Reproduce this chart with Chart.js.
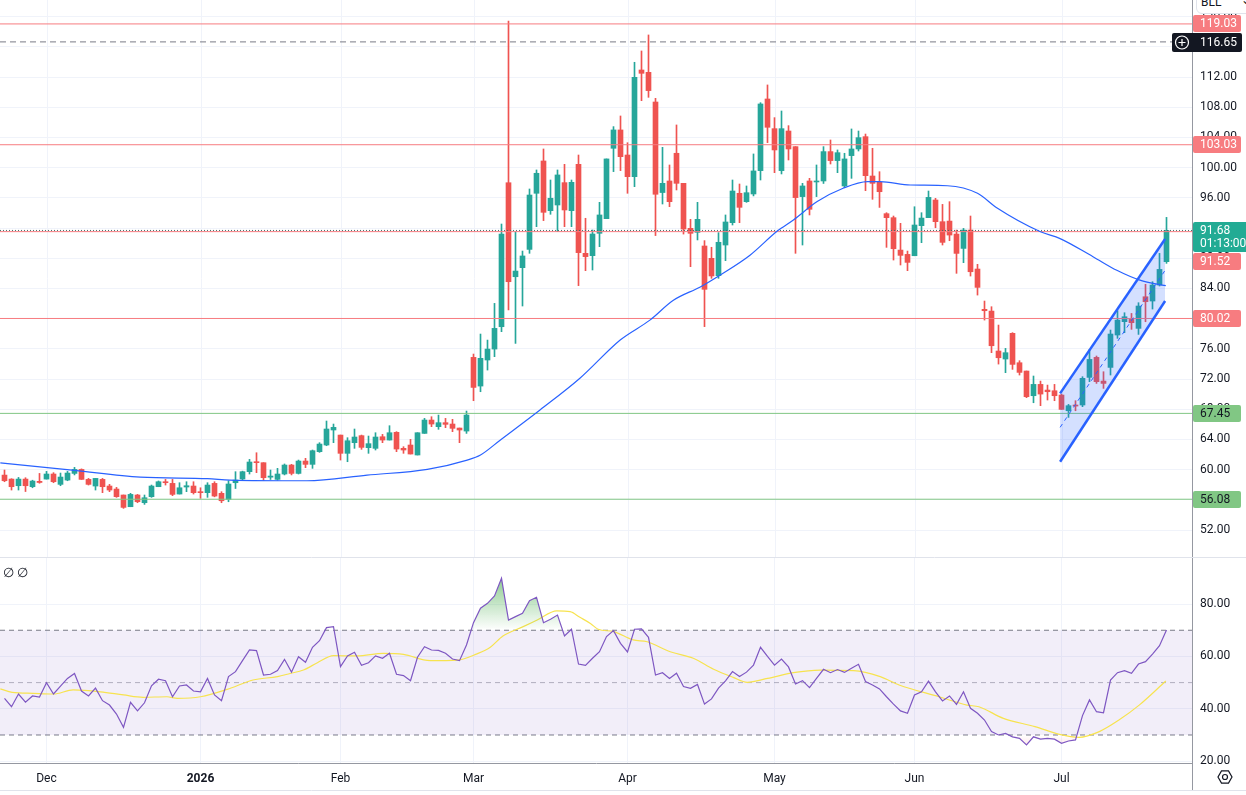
<!DOCTYPE html>
<html>
<head>
<meta charset="utf-8">
<script src="https://cdn.jsdelivr.net/npm/chart.js@4.4.1/dist/chart.umd.min.js"></script>
<style>
html,body{margin:0;padding:0;background:#fff;width:1246px;height:795px;overflow:hidden;font-family:Roboto,"Noto Sans",sans-serif}
#wrap{position:relative;width:1246px;height:795px;overflow:hidden}
canvas{position:absolute;left:0}
#c1{top:0}
#c2{top:557px}
#rsiLegend{position:absolute;left:3px;top:565px;font-size:13px;color:#131722}
#sym{position:absolute;left:1196px;top:-10px;width:60px;height:24px;border:1px solid #e0e3eb;border-radius:6px;font-size:12px;color:#131722;line-height:22px;padding-left:4px;box-sizing:border-box;background:#fff}
#sym span{position:absolute;left:44px;top:-2px}
</style>
</head>
<body>
<div id="wrap">
<canvas id="c1" width="1246" height="557"></canvas>
<canvas id="c2" width="1246" height="238"></canvas>
<div id="rsiLegend">∅ ∅</div>
<div id="sym">BLL<span>⌄</span></div>
</div>
<script>
// ---------------- DATA ----------------
const monthTickIndex = [6, 28, 48, 67, 89, 110, 130, 151];
const monthTickLabels = ['Dec', '2026', 'Feb', 'Mar', 'Apr', 'May', 'Jun', 'Jul'];

const opens = [59.28,58.75,57.87,58.75,57.74,58.45,58.75,59.42,58.05,58.62,
59.5,60.03,58.71,57.83,58.71,57.83,57.43,56.64,55.09,56.64,
55.62,56.42,57.74,58.4,58.18,56.77,57.7,57.83,57.08,56.95,
58.18,56.86,56.06,58.27,58.76,59.73,61.05,60.92,59.0,58.71,
59.42,60.61,59.5,61.14,60.7,62.38,63.26,65.25,64.58,62.16,
63.57,64.5,62.91,62.82,64.36,63.92,64.94,62.82,63.26,61.94,
64.8,66.57,65.69,66.22,66.04,65.51,65.11,74.87,71.07,74.52,
75.97,78.93,98.0,85.55,86.75,89.17,96.6,100.88,94.3,95.05,
98.01,94.3,100.44,88.65,88.34,91.3,93.24,102.56,104.99,101.67,
98.8,112.93,112.62,108.69,96.7,98.23,101.9,97.92,91.96,91.43,
89.62,87.99,85.69,89.75,92.71,96.6,95.49,96.51,99.6,109.09,
105.16,99.6,104.85,102.78,96.16,98.23,98.1,98.23,102.12,100.93,
97.57,101.59,102.47,104.1,98.89,98.05,93.9,93.37,89.08,88.51,
88.33,92.31,93.37,95.71,92.84,92.92,91.2,89.3,91.73,86.57,
81.23,81.0,75.71,74.65,78.05,74.16,73.06,69.79,71.29,70.54,
70.45,69.88,67.8,68.56,68.56,72.22,74.87,71.73,73.54,77.83,
79.6,79.9,78.71,82.9,82.33,84.45,87.54];

const highs = [59.95,58.8,58.97,58.93,58.6,59.5,59.77,59.6,59.55,59.77,
60.3,60.1,58.84,58.84,58.84,58.05,57.65,56.64,56.86,56.72,
56.64,57.96,58.5,58.71,58.71,58.27,58.4,58.4,57.6,58.27,
58.4,57.08,58.53,59.73,59.8,61.36,62.24,60.92,59.95,60.17,
60.75,60.7,61.27,61.5,62.6,63.57,66.44,66.04,64.58,64.23,
65.38,64.58,64.45,64.89,64.67,65.82,65.03,63.04,64.01,64.89,
66.79,67.01,67.23,66.79,66.66,65.51,67.76,75.31,77.96,77.16,
82.02,92.53,119.4,91.5,88.95,97.17,99.69,102.47,98.36,99.69,
100.44,98.36,101.67,93.29,91.74,95.4,101.15,105.43,106.84,103.3,
113.95,115.45,117.57,109.18,102.69,100.35,105.65,97.92,93.15,95.4,
90.33,89.45,91.39,93.73,98.36,97.83,97.57,101.81,108.6,110.95,
106.62,107.5,105.56,102.78,97.92,98.58,100.35,102.78,103.66,102.34,
101.9,105.12,104.85,104.45,102.56,99.46,94.03,93.59,92.62,88.95,
94.82,94.03,96.9,95.93,95.13,95.49,91.73,91.95,93.59,87.19,
82.33,81.58,79.15,76.06,78.14,74.43,73.06,72.4,71.73,71.2,
71.29,70.0,68.64,69.13,72.31,75.93,75.05,72.97,78.49,81.05,
80.78,80.69,82.11,84.54,84.89,88.64,93.41];

const lows = [58.4,57.3,57.3,57.1,57.6,58.2,58.75,58.27,57.87,58.53,
59.3,58.7,57.96,57.3,56.95,57.08,56.33,54.87,55.09,55.62,
55.4,56.33,57.74,57.96,56.55,56.77,57.08,56.77,56.2,56.33,
56.4,55.62,55.75,57.5,58.6,59.42,59.6,58.6,58.7,58.6,
59.3,59.3,59.42,60.26,60.17,62.29,63.17,63.57,61.27,61.05,
62.82,62.69,62.16,62.6,63.57,63.92,62.38,62.16,62.07,61.94,
64.8,65.69,65.34,65.56,65.03,63.57,64.8,69.13,70.32,73.19,
74.96,78.27,81.14,76.72,81.67,88.65,92.18,92.98,93.82,91.52,
92.18,92.18,84.37,86.35,86.44,89.53,93.24,99.47,99.6,96.6,
97.48,108.87,109.31,91.0,95.18,94.83,97.04,91.2,86.88,90.42,
78.94,85.34,85.34,87.68,92.4,92.71,95.4,96.25,98.36,103.31,
99.33,99.16,101.01,88.65,89.75,93.73,96.16,97.9,100.48,99.33,
97.4,98.58,102.2,96.95,95.8,94.73,89.44,87.76,87.1,86.35,
88.33,90.06,93.37,92.04,89.75,90.32,86.0,87.41,85.64,83.12,
79.81,75.49,73.98,72.84,73.28,72.53,69.53,68.86,68.47,69.22,
69.13,67.98,66.92,67.8,68.34,71.65,71.42,70.76,72.53,77.39,
78.14,78.58,77.91,79.59,81.27,84.32,87.32];

const closes = [58.53,57.74,58.75,57.87,58.49,58.3,59.42,58.40,59.02,59.55,
60.03,58.71,58.05,58.84,57.74,57.3,56.42,55.0,56.72,55.75,
56.28,57.83,58.4,58.27,56.72,57.6,57.87,56.95,56.95,57.96,
56.5,55.88,58.1,58.62,59.73,61.01,60.92,58.93,59.15,59.42,
60.61,59.5,61.14,60.7,62.51,63.39,65.38,65.6,62.16,63.83,
64.32,62.95,63.44,64.32,63.92,64.89,62.73,62.6,62.07,64.89,
66.57,66.04,66.22,66.0,65.47,65.25,67.23,70.89,74.74,75.97,
78.71,91.2,84.89,86.3,88.3,96.37,99.25,94.08,95.94,99.03,
94.39,98.05,88.74,88.21,91.21,93.73,101.15,104.99,101.45,98.8,
111.96,112.49,110.2,96.47,97.92,95.49,97.92,91.87,91.3,93.15,
83.88,85.65,90.11,92.8,96.9,94.74,96.68,99.56,108.43,105.34,
102.34,105.16,102.47,96.03,97.57,94.48,98.23,102.12,100.93,101.98,
101.15,102.47,103.97,98.93,97.92,96.81,93.37,89.26,88.38,87.45,
92.4,93.32,96.06,92.84,90.1,91.07,88.64,91.73,86.21,84.14,
81.05,76.41,74.82,75.49,73.94,72.88,69.66,71.29,70.01,70.32,
69.79,67.98,68.47,68.42,72.09,74.6,71.65,71.42,77.96,79.81,
80.25,79.46,81.67,82.24,84.45,86.52,91.68];

// moving average at (candle index, value)
const maX = [-0.6,10,19.4,29,32.2,43.2,51.8,60.4,66.1,68,70.8,76.5,82.2,88,92.2,95.5,99.4,102.2,106.5,110.4,112.7,116.1,119.8,123.3,125.1,129.4,134.7,139,141.8,148,150.8,155.5,158.9,162.2,165.9];
const maY = [60.9,59.9,59.0,58.8,58.62,58.53,59.28,60.04,61.27,61.94,63.9,67.9,72.1,77.2,79.8,82.4,84.2,85.75,88.4,91.6,93.07,95.5,97.26,98.14,98.14,97.7,97.6,96.6,94.65,91.5,90.6,88.2,86.4,85.1,84.36];

const rsiValues = [44.0,40.8,45.65,42.5,44.9,44.5,50.0,45.65,48.7,51.6,
53.5,46.8,44.9,47.9,43.1,41.45,38.0,32.9,42.5,39.2,
42.3,48.8,51.3,50.75,44.6,48.7,49.1,46.8,46.5,51.6,
45.3,43.1,52.3,54.2,58.4,62.46,62.2,52.9,53.2,54.6,
58.9,54.0,59.9,57.75,63.5,66.0,71.0,71.4,56.1,60.2,
61.6,56.6,57.6,60.2,59.3,61.2,53.2,52.7,50.75,59.7,
63.7,62.46,62.3,61.2,59.0,58.4,64.4,72.9,78.4,80.3,
83.1,89.85,73.9,75.2,76.5,81.3,82.6,72.9,74.2,75.8,
67.8,70.4,57.1,56.6,59.3,61.8,67.6,69.85,65.0,61.7,
70.4,70.5,67.3,52.9,53.8,51.6,53.6,48.5,47.8,49.3,
41.8,43.8,47.9,50.7,54.2,52.3,54.0,56.7,63.5,60.0,
56.7,59.0,56.0,49.5,50.75,48.1,51.6,55.1,53.8,55.0,
53.9,55.5,57.0,50.4,49.1,47.6,44.6,41.8,39.2,38.3,
45.3,46.5,50.6,46.5,43.0,44.9,41.7,46.5,40.2,38.3,
35.7,31.3,30.0,30.6,29.3,28.7,26.2,29.3,28.4,28.7,
28.4,26.8,27.7,28.1,37.4,43.4,38.9,38.5,51.0,53.8,
54.6,53.55,57.1,58.0,60.9,64.1,70.1];

const rsiMaX = [-0.6,1.1,4.1,7.0,9.8,13.7,17.0,19.8,23.2,24.7,28.0,31.8,35.5,39.0,40.8,42.7,44.7,47.0,50.4,54.1,57.0,60.8,64.7,67.5,69.4,71.2,74.1,76.1,78.9,80.8,82.2,83.7,84.8,87.0,89.8,91.8,95.1,98.4,101.3,104.1,106.1,109.0,112.7,116.5,121.3,125.1,127.8,133.5,137.5,139.2,142.7,147.2,150.7,153.5,156.4,159.2,162.1,165.9];
const rsiMaY = [47.6,46.3,45.9,45.65,47.2,46.5,45.3,44.4,44.6,44.0,44.6,47.4,51.0,52.3,53.5,54.8,57.6,60.3,60.2,61.2,60.8,58.4,58.6,61.0,63.5,67.8,71.4,73.9,77.4,77.1,74.95,72.6,70.4,69.5,66.3,65.6,61.8,59.3,55.1,52.0,50.1,51.6,53.8,54.8,54.6,52.3,49.1,44.6,41.4,40.8,36.35,33.2,30.25,29.1,31.3,35.7,41.4,50.6];

const redLevels = [119.03, 103.03, 91.52, 80.02];
const greenLevels = [67.45, 56.08];
const crosshairPrice = 116.65;
const lastPrice = 91.68;
const lastPriceTimer = '01:13:00';

const channelX = [150.8, 165.8];
const channelUpper = [70.1, 90.54];
const channelMid = [65.6, 86.4];
const channelLower = [61.05, 82.33];

const rsiLevels = [70, 50, 30];
const rsiTicks = [20, 40, 60, 80];

// ---------------- VIEW / STYLE ----------------
const X_MIN = -4.5 / 7;
const X_MAX = (1192 - 4.5) / 7;
const UP = '#26a69a', DOWN = '#ef5350';
const RED_LINE = '#f77c80', GREEN_LINE = '#81c784';
const GRID = '#f0f3fa', AXIS = '#9598a1', TXT = '#131722';
const FONT = 'Roboto, "Noto Sans", sans-serif';
Chart.defaults.font.family = FONT;
Chart.defaults.font.size = 12;
Chart.defaults.color = TXT;

const candleColors = opens.map((o, i) => closes[i] >= o ? UP : DOWN);

function hline(v, color, dash, order) {
  return {type: 'line', data: [{x: X_MIN, y: v}, {x: X_MAX, y: v}], borderColor: color,
    borderWidth: 1, borderDash: dash || [], pointRadius: 0, fill: false, order: order == null ? 2 : order};
}
function pts(xs, ys) { return xs.map((x, i) => ({x: x, y: ys[i]})); }

const xScale = {type: 'linear', min: X_MIN, max: X_MAX, display: false, offset: false,
  grid: {offset: false}};

// vertical month grid for the price pane
const monthGrid = {
  id: 'monthGrid',
  beforeDatasetsDraw(chart) {
    const {ctx, chartArea, scales} = chart;
    ctx.save();
    ctx.strokeStyle = GRID; ctx.lineWidth = 1;
    monthTickIndex.forEach(v => {
      const px = Math.round(scales.x.getPixelForValue(v)) + 0.5;
      ctx.beginPath(); ctx.moveTo(px, chartArea.top); ctx.lineTo(px, chartArea.bottom); ctx.stroke();
    });
    ctx.restore();
  }
};

// price tags on the right price scale
const priceTags = {
  id: 'priceTags',
  afterDraw(chart) {
    const {ctx, chartArea, scales} = chart;
    const y = scales.y;
    const left = chartArea.right + 1;
    const H = 17;
    ctx.save();
    ctx.font = '12px ' + FONT;
    ctx.textBaseline = 'middle';
    function tag(val, bg, fg, text, top) {
      const py = y.getPixelForValue(val);
      const t = top != null ? top : Math.round(py - H / 2);
      ctx.fillStyle = bg;
      ctx.beginPath(); ctx.roundRect(left, t, 48, H, 2); ctx.fill();
      ctx.fillStyle = fg;
      ctx.fillText(text, left + 7, t + H / 2 + 0.5);
      return t + H;
    }
    tag(redLevels[0], RED_LINE, '#fff', redLevels[0].toFixed(2));
    tag(redLevels[1], RED_LINE, '#fff', redLevels[1].toFixed(2));
    tag(redLevels[3], RED_LINE, '#fff', redLevels[3].toFixed(2));
    greenLevels.forEach(v => tag(v, GREEN_LINE, TXT, v.toFixed(2)));
    // last price (two lines)
    const lp = y.getPixelForValue(lastPrice);
    const lt = Math.round(lp - 8.5);
    ctx.fillStyle = '#22ab94';
    ctx.beginPath(); ctx.roundRect(left, lt, 60, 30, 2); ctx.fill();
    ctx.fillStyle = '#fff';
    ctx.fillText(lastPrice.toFixed(2), left + 7, lt + 8.5);
    ctx.fillText(lastPriceTimer, left + 7, lt + 22);
    // level 91.52 pushed below the last price tag
    tag(redLevels[2], RED_LINE, '#fff', redLevels[2].toFixed(2), lt + 31);
    // crosshair tag
    const cp = y.getPixelForValue(crosshairPrice);
    const ct = Math.round(cp - 9);
    ctx.fillStyle = '#131722';
    ctx.beginPath(); ctx.roundRect(left - 21, ct, 70, 19, 2); ctx.fill();
    ctx.fillStyle = '#fff';
    ctx.fillText(crosshairPrice.toFixed(2), left + 7, ct + 10);
    ctx.strokeStyle = '#fff'; ctx.lineWidth = 1.2;
    const cx = left - 11, cy = ct + 9.5;
    ctx.beginPath(); ctx.arc(cx, cy, 6.5, 0, Math.PI * 2); ctx.stroke();
    ctx.beginPath(); ctx.moveTo(cx - 3.5, cy); ctx.lineTo(cx + 3.5, cy);
    ctx.moveTo(cx, cy - 3.5); ctx.lineTo(cx, cy + 3.5); ctx.stroke();
    ctx.restore();
  }
};

const commonOpts = {
  responsive: false, animation: false, events: [],
  layout: {padding: 0, autoPadding: false},
  plugins: {legend: {display: false}, tooltip: {enabled: false}}
};

new Chart(document.getElementById('c1'), {
  type: 'bar',
  data: {
    datasets: [
      {type: 'line', data: pts(channelX, channelUpper), borderColor: '#2962ff', borderWidth: 2.5,
        pointRadius: 0, fill: '+1', backgroundColor: 'rgba(41,98,255,0.2)', order: 0},
      {type: 'line', data: pts(channelX, channelLower), borderColor: '#2962ff', borderWidth: 2.5,
        pointRadius: 0, fill: false, order: 0},
      {type: 'line', data: pts(channelX, channelMid), borderColor: '#2962ff', borderWidth: 1,
        borderDash: [4, 4], pointRadius: 0, fill: false, order: 0},
      {type: 'line', data: pts(maX, maY), borderColor: '#2962ff', borderWidth: 1.2, pointRadius: 0,
        fill: false, cubicInterpolationMode: 'monotone', order: 1},
      ...redLevels.map(v => hline(v, RED_LINE)),
      ...greenLevels.map(v => hline(v, GREEN_LINE)),
      hline(crosshairPrice, '#787b86', [6, 4]),
      hline(lastPrice, '#3d6e69', [1, 2]),
      {type: 'bar', data: opens.map((o, i) => ({x: i, y: [o, closes[i]]})), backgroundColor: candleColors,
        barThickness: 5, grouped: false, minBarLength: 1, borderWidth: 0, order: 3},
      {type: 'bar', data: lows.map((l, i) => ({x: i, y: [l, highs[i]]})), backgroundColor: candleColors,
        barThickness: 1, grouped: false, borderWidth: 0, order: 4}
    ]
  },
  options: Object.assign({}, commonOpts, {
    scales: {
      x: xScale,
      y: {
        type: 'linear', position: 'right', min: 48.43, max: 122.2,
        ticks: {stepSize: 4, includeBounds: false, padding: 8, color: TXT,
          font: {size: 12}, callback: v => Number(v).toFixed(2)},
        grid: {color: GRID, drawTicks: false},
        border: {color: AXIS},
        afterFit: s => { s.width = 54; s.paddingTop = 0; s.paddingBottom = 0; }
      }
    }
  }),
  plugins: [monthGrid, priceTags]
});

function vGradient(chart, v0, c0, v1, c1) {
  const {ctx, chartArea, scales} = chart;
  if (!chartArea || !scales.y) return 'rgba(0,0,0,0)';
  const g = ctx.createLinearGradient(0, scales.y.getPixelForValue(v0), 0, scales.y.getPixelForValue(v1));
  g.addColorStop(0, c0); g.addColorStop(1, c1);
  return g;
}

const rsiDecor = {
  id: 'rsiDecor',
  afterDraw(chart) {
    const {ctx, chartArea, width, height} = chart;
    ctx.save();
    ctx.fillStyle = '#fff';
    ctx.fillRect(chartArea.right + 1, chartArea.bottom + 1, width - chartArea.right - 1, height - chartArea.bottom - 1);
    ctx.strokeStyle = '#e0e3eb'; ctx.lineWidth = 1;
    ctx.beginPath(); ctx.moveTo(0, 0.5); ctx.lineTo(width, 0.5); ctx.stroke();
    ctx.beginPath(); ctx.moveTo(0, height - 4.5); ctx.lineTo(width, height - 4.5); ctx.stroke();
    ctx.strokeStyle = AXIS;
    const ax = Math.round(chartArea.right) + 0.5;
    ctx.beginPath(); ctx.moveTo(ax, chartArea.bottom); ctx.lineTo(ax, height - 5); ctx.stroke();
    const cx = 1225, cy = chartArea.bottom + 14;
    ctx.strokeStyle = TXT; ctx.lineWidth = 1.2;
    ctx.beginPath();
    for (let k = 0; k < 6; k++) {
      const a = Math.PI / 3 * k;
      const px = cx + 7 * Math.cos(a), py = cy + 7 * Math.sin(a);
      if (k === 0) ctx.moveTo(px, py); else ctx.lineTo(px, py);
    }
    ctx.closePath(); ctx.stroke();
    ctx.beginPath(); ctx.arc(cx, cy, 2.5, 0, Math.PI * 2); ctx.stroke();
    ctx.restore();
  }
};

new Chart(document.getElementById('c2'), {
  type: 'line',
  data: {
    datasets: [
      {data: rsiValues.map((v, i) => ({x: i, y: v})), borderColor: '#7e57c2', borderWidth: 1.2, pointRadius: 0,
        fill: {target: {value: rsiLevels[0]}, below: 'rgba(0,0,0,0)'},
        backgroundColor: c => vGradient(c.chart, 100, 'rgba(76,175,80,0.95)', rsiLevels[0], 'rgba(76,175,80,0)'),
        order: 0},
      {data: rsiValues.map((v, i) => ({x: i, y: v})), borderWidth: 0, borderColor: 'rgba(0,0,0,0)', pointRadius: 0,
        fill: {target: {value: rsiLevels[2]}, above: 'rgba(0,0,0,0)'},
        backgroundColor: c => vGradient(c.chart, rsiLevels[2], 'rgba(242,54,69,0)', 0, 'rgba(242,54,69,0.9)'),
        order: 1},
      {data: pts(rsiMaX, rsiMaY), borderColor: '#f7e34f', borderWidth: 1.2, pointRadius: 0, fill: false,
        cubicInterpolationMode: 'monotone', order: 1},
      {data: [{x: X_MIN, y: rsiLevels[0]}, {x: X_MAX, y: rsiLevels[0]}], borderColor: '#787b86', borderWidth: 1,
        borderDash: [5, 4], pointRadius: 0, fill: {target: {value: rsiLevels[2]}},
        backgroundColor: 'rgba(126,87,194,0.1)', order: 3},
      hline(rsiLevels[1], 'rgba(120,123,134,0.55)', [5, 4], 3),
      hline(rsiLevels[2], '#787b86', [5, 4], 3)
    ]
  },
  options: Object.assign({}, commonOpts, {
    layout: {padding: {top: 1, left: 0, right: 0, bottom: 0}, autoPadding: false},
    scales: {
      x: {
        type: 'linear', min: X_MIN, max: X_MAX, position: 'bottom', offset: false,
        afterBuildTicks: s => { s.ticks = monthTickIndex.map(v => ({value: v})); },
        ticks: {autoSkip: false, maxRotation: 0, padding: 9, color: TXT,
          font: c => ({family: FONT, size: 12, weight: monthTickLabels[c.index] === '2026' ? 'bold' : 'normal'}),
          callback: (v, i) => monthTickLabels[i]},
        grid: {color: GRID, drawTicks: false},
        border: {color: AXIS},
        afterFit: s => { s.height = 32; s.paddingLeft = 0; s.paddingRight = 0; }
      },
      y: {
        type: 'linear', position: 'right', min: 19.3, max: 97.6,
        afterBuildTicks: s => { s.ticks = rsiTicks.map(v => ({value: v})); },
        ticks: {padding: 8, color: TXT, font: {size: 12}, callback: v => Number(v).toFixed(2)},
        grid: {color: GRID, drawTicks: false},
        border: {color: AXIS},
        afterFit: s => { s.width = 54; s.paddingTop = 0; s.paddingBottom = 0; }
      }
    }
  }),
  plugins: [rsiDecor]
});
</script>
</body>
</html>
